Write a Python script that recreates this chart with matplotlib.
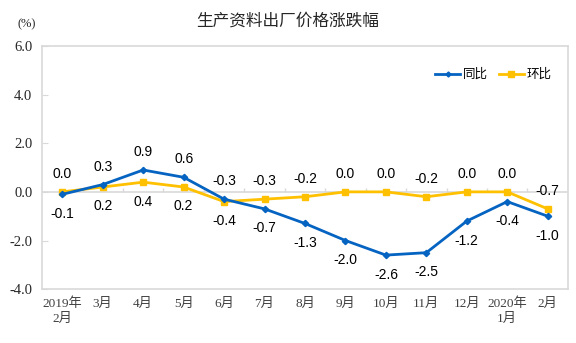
import matplotlib
matplotlib.use("Agg")
import matplotlib.pyplot as plt

# ------------------------------------------------------------------ dados

months = ["2019年\n2月", "3月", "4月", "5月", "6月", "7月", "8月", "9月",
          "10月", "11月", "12月", "2020年\n1月", "2月"]
yoy = [-0.1, 0.3, 0.9, 0.6, -0.3, -0.7, -1.3, -2.0, -2.6, -2.5, -1.2, -0.4, -1.0]
mom = [0.0, 0.2, 0.4, 0.2, -0.4, -0.3, -0.2, 0.0, 0.0, -0.2, 0.0, 0.0, -0.7]
yticks = [-4.0, -2.0, 0.0, 2.0, 4.0, 6.0]

BLUE = "#0563C1"
YELLOW = "#FFC000"
GRID = "#D9D9D9"
CJK = ["Noto Sans CJK SC", "DejaVu Sans"]
SERIF_CJK = ["Liberation Serif", "Noto Sans CJK SC"]

plt.rcParams["font.family"] = CJK

fig = plt.figure(figsize=(5.76, 3.43), dpi=100)
ax = fig.add_axes([0.073, 0.157, 0.913, 0.709])

x = list(range(len(months)))
ax.plot(x, yoy, color=BLUE, lw=2, marker="D", ms=3.2, label="同比", zorder=4)
ax.plot(x, mom, color=YELLOW, lw=2, marker="s", ms=5, label="环比", zorder=3)

# linha do zero com marcas entre categorias
ax.axhline(0, color=GRID, lw=1.2, zorder=1)
ax.vlines([i + 0.5 for i in x[:-1]], 0, 0.15, color=GRID, lw=1, zorder=1)

# rótulos: o valor maior fica por cima
for i, (a, b) in enumerate(zip(yoy, mom)):
    hi, lo = (a, b) if a > b else (b, a)
    ax.annotate(f"{hi:.1f}", (i, hi), textcoords="offset points", xytext=(0, 13),
                ha="center", va="center", fontsize=10, family="Liberation Sans")
    ax.annotate(f"{lo:.1f}", (i, lo), textcoords="offset points", xytext=(0, -14),
                ha="center", va="center", fontsize=10, family="Liberation Sans")

ax.set_xlim(-0.5, len(months) - 0.5)
ax.set_ylim(-4, 6)
ax.set_xticks(x)
ax.set_xticklabels(months, family=SERIF_CJK, fontsize=9.5, color="#404040",
                   linespacing=1.3)
ax.set_yticks(yticks)
ax.set_yticklabels([f"{v:.1f}" for v in yticks], family="Liberation Serif",
                   fontsize=10.5, color="#262626")
ax.tick_params(axis="x", length=0, pad=6)
ax.tick_params(axis="y", direction="in", length=4, color=GRID, pad=7)
for s in ax.spines.values():
    s.set_color(GRID)
    s.set_linewidth(1.2)

fig.text(0.5, 0.938, "生产资料出厂价格涨跌幅", ha="center", va="center",
         fontsize=12, color="#262626")
fig.text(0.047, 0.928, "(%)", ha="center", va="center", fontsize=9,
         family="Liberation Serif", color="#262626")

ax.legend(loc="upper right", bbox_to_anchor=(0.99, 0.955), ncol=2, frameon=False,
          fontsize=9, handlelength=2.0, columnspacing=0.9, handletextpad=0.2,
          markerscale=0.8)

plt.savefig("out.png", dpi=100)
plt.close()
